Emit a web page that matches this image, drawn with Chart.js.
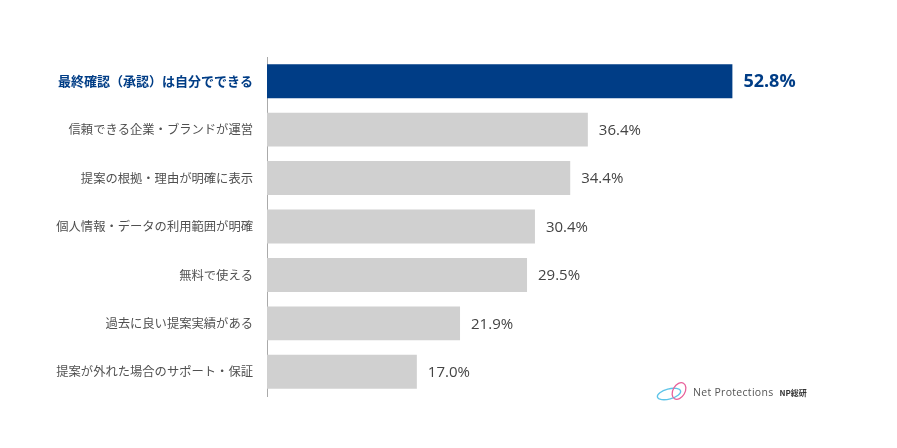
<!DOCTYPE html>
<html>
<head>
<meta charset="utf-8">
<script src="https://cdn.jsdelivr.net/npm/chart.js@4"></script>
<style>
  body { margin: 0; background: #fff; }
  #wrap { position: relative; width: 897px; height: 448px; }
  #logo { position: absolute; left: 655px; top: 380px; display: flex; align-items: center;
          font-family: "Open Sans", sans-serif; color: #555; }
  #logo .np { font-family: "Noto Sans CJK JP", sans-serif; font-weight: bold; font-size: 8px; margin-left: 6px; color: #333; }
</style>
</head>
<body>
<div id="wrap">
  <canvas id="myChart" width="897" height="448"></canvas>
  <div id="logo">
    <svg width="36" height="24" viewBox="0 0 36 24">
      <ellipse cx="14" cy="14" rx="12" ry="5" fill="none" stroke="#5ec4e8" stroke-width="1.3" transform="rotate(-15 14 14)"/>
      <ellipse cx="24" cy="11" rx="6" ry="9" fill="none" stroke="#e8609a" stroke-width="1.3" transform="rotate(30 24 11)"/>
    </svg>
    <span style="font-size:10.5px; letter-spacing:0.3px; margin-left:2px">Net Protections</span>
    <span class="np">NP総研</span>
  </div>
</div>
<script>
// data
let labelValues = [
    '最終確認（承認）は自分でできる',
    '信頼できる企業・ブランドが運営',
    '提案の根拠・理由が明確に表示',
    '個人情報・データの利用範囲が明確',
    '無料で使える',
    '過去に良い提案実績がある',
    '提案が外れた場合のサポート・保証'
];
let percentValues = [52.8, 36.4, 34.4, 30.4, 29.5, 21.9, 17.0];

const blue = '#003d86';
const grey = '#d0d0d0';

// value labels after bars
const valueLabels = {
    id: 'valueLabels',
    afterDatasetsDraw(chart) {
        const ctx = chart.ctx;
        const meta = chart.getDatasetMeta(0);
        ctx.save();
        ctx.textBaseline = 'middle';
        ctx.textAlign = 'left';
        meta.data.forEach((bar, i) => {
            if (i === 0) {
                ctx.font = 'bold 18px "Open Sans", sans-serif';
                ctx.fillStyle = blue;
            } else {
                ctx.font = '15px "Open Sans", sans-serif';
                ctx.fillStyle = '#444';
            }
            ctx.fillText(percentValues[i].toFixed(1) + '%', bar.x + 11, bar.y + 1);
        });
        ctx.restore();
    }
};

const ctx = document.getElementById('myChart').getContext('2d');
const myChart = new Chart(ctx, {
    type: 'bar',
    data: {
        labels: labelValues,
        datasets: [{
            data: percentValues,
            backgroundColor: percentValues.map((v, i) => i === 0 ? blue : grey),
            barPercentage: 0.7,
            categoryPercentage: 1.0
        }]
    },
    options: {
        indexAxis: 'y',
        responsive: false,
        animation: false,
        layout: { padding: { top: 57, bottom: 52, left: 0, right: 13 } },
        plugins: { legend: { display: false }, tooltip: { enabled: false } },
        scales: {
            x: { display: false, min: 0, max: 70 },
            y: {
                grid: { display: false, drawTicks: false },
                border: { display: true, color: '#aaa', width: 1 },
                ticks: {
                    padding: 14,
                    color: c => c.index === 0 ? blue : '#505050',
                    font: c => c.index === 0
                        ? { family: '"Noto Sans CJK JP", sans-serif', size: 13, weight: 'bold' }
                        : { family: '"Noto Sans CJK JP", sans-serif', size: 12.3 }
                },
                afterFit: s => { s.width = 267; }
            }
        }
    },
    plugins: [valueLabels]
});
</script>
</body>
</html>
